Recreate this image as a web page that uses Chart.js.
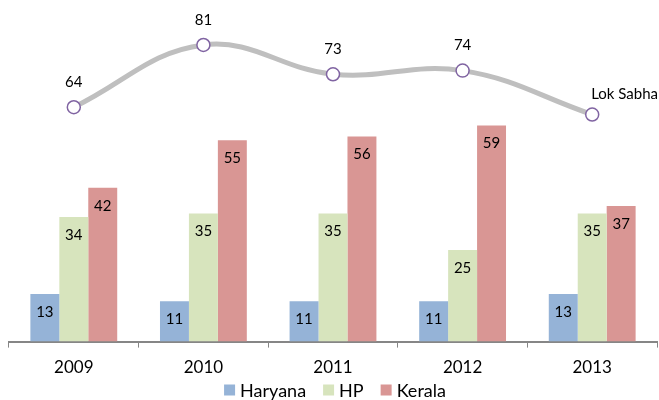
<!DOCTYPE html>
<html>
<head>
<meta charset="utf-8">
<script src="https://cdn.jsdelivr.net/npm/chart.js@4"></script>
<style>
  html, body { margin: 0; padding: 0; background: #fff; }
  #wrap { width: 659px; height: 400px; }
</style>
</head>
<body>
<div id="wrap"><canvas id="graphCanvas" width="659" height="400"></canvas></div>
<script>
let years = ['2009', '2010', '2011', '2012', '2013'];
let haryana = [13, 11, 11, 11, 13];
let hp = [34, 35, 35, 25, 35];
let kerala = [42, 55, 56, 59, 37];
let lokSabha = [64, 81, 73, 74, 62];

let fontFamily = 'Lato, "Liberation Sans", sans-serif';

// simple label drawer, no datalabels plugin available
let labelPlugin = {
    id: 'valueLabels',
    afterDatasetsDraw(chart) {
        let ctx = chart.ctx;
        ctx.save();
        ctx.fillStyle = '#000';
        ctx.textBaseline = 'middle';
        chart.data.datasets.forEach((ds, i) => {
            let meta = chart.getDatasetMeta(i);
            meta.data.forEach((el, j) => {
                ctx.font = '15px ' + fontFamily;
                if (ds.type === 'line') {
                    if (j === ds.data.length - 1) {
                        ctx.textAlign = 'left';
                        ctx.fillText(ds.label, el.x - 1, el.y - 20);
                    } else {
                        ctx.textAlign = 'center';
                        ctx.fillText(ds.data[j], el.x, el.y - 25);
                    }
                } else {
                    ctx.textAlign = 'center';
                    ctx.fillText(ds.data[j], el.x, el.y + 18);
                }
            });
        });
        ctx.restore();
    }
};

// legend drawn by hand so it sits tight under the axis labels
let legendPlugin = {
    id: 'bottomLegend',
    afterDraw(chart) {
        let ctx = chart.ctx;
        let items = chart.data.datasets.filter(ds => ds.type !== 'line');
        let box = 11, gap = 5, space = 17;
        ctx.save();
        ctx.font = '18px ' + fontFamily;
        ctx.textBaseline = 'middle';
        ctx.textAlign = 'left';
        let total = 0;
        items.forEach((ds, i) => {
            total += box + gap + ctx.measureText(ds.label).width;
            if (i < items.length - 1) total += space;
        });
        let x = 335 - total / 2;
        let y = 390;
        items.forEach(ds => {
            ctx.fillStyle = ds.backgroundColor;
            ctx.fillRect(x, y - box / 2, box, box);
            x += box + gap;
            ctx.fillStyle = '#000';
            ctx.fillText(ds.label, x, y + 1);
            x += ctx.measureText(ds.label).width + space;
        });
        ctx.restore();
    }
};

let ctx = document.getElementById('graphCanvas').getContext('2d');
let chart = new Chart(ctx, {
    type: 'bar',
    data: {
        labels: years,
        datasets: [
            {
                type: 'line',
                label: 'Lok Sabha',
                data: lokSabha,
                borderColor: '#BFBFBF',
                borderWidth: 5,
                tension: 0.4,
                fill: false,
                pointRadius: 6.5,
                pointBackgroundColor: '#FFFFFF',
                pointBorderColor: '#8064A2',
                pointBorderWidth: 1.5,
                order: 0
            },
            { label: 'Haryana', data: haryana, backgroundColor: '#95B3D7', order: 1 },
            { label: 'HP', data: hp, backgroundColor: '#D7E4BD', order: 1 },
            { label: 'Kerala', data: kerala, backgroundColor: '#D99694', order: 1 }
        ]
    },
    options: {
        responsive: false,
        animation: false,
        devicePixelRatio: 1,
        layout: { autoPadding: false, padding: { top: 12, left: 9, right: 2, bottom: 12 } },
        datasets: {
            bar: { categoryPercentage: 0.67, barPercentage: 1.0 }
        },
        plugins: {
            tooltip: { enabled: false },
            legend: { display: false }
        },
        scales: {
            x: {
                grid: {
                    display: true,
                    drawOnChartArea: false,
                    drawTicks: true,
                    tickLength: 6,
                    color: '#868686',
                    offset: true
                },
                border: { display: true, color: '#868686', width: 2 },
                ticks: {
                    color: '#000',
                    padding: 10,
                    font: { family: fontFamily, size: 17 }
                }
            },
            y: {
                display: false,
                min: 0,
                max: 90
            }
        }
    },
    plugins: [labelPlugin, legendPlugin]
});
</script>
</body>
</html>
